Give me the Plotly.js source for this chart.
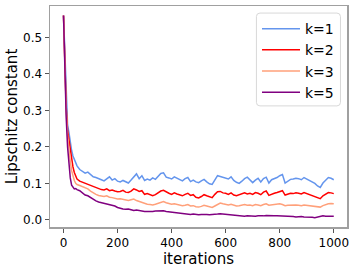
<!DOCTYPE html>
<html><head><meta charset="utf-8">
<script src="https://cdn.plot.ly/plotly-3.0.1.min.js"></script>
<style>html,body{margin:0;padding:0;background:#fff}#chart{width:357px;height:270px}</style>
</head><body><div id="chart"></div>
<script>
const iters = [0,5,10,15,20,25,30,35,40,45,50,60,70,80,90,100,110,120,130,140,150,160,170,180,190,200,210,220,230,240,250,260,270,280,290,300,310,320,330,340,350,360,370,380,390,400,410,420,430,440,450,460,470,480,490,500,510,520,530,540,550,560,570,580,590,600,610,620,630,640,650,660,670,680,690,700,710,720,730,740,750,760,770,780,790,800,810,820,830,840,850,860,870,880,890,900,910,920,930,940,950,960,970,980,990,1000];
const k1 = [0.56,0.44,0.33,0.26,0.24,0.21,0.19,0.175,0.165,0.155,0.148,0.138,0.132,0.128,0.131,0.124,0.118,0.116,0.112,0.11,0.107,0.112,0.118,0.109,0.113,0.106,0.104,0.108,0.105,0.101,0.109,0.118,0.126,0.113,0.121,0.108,0.112,0.109,0.115,0.111,0.118,0.127,0.129,0.117,0.115,0.112,0.118,0.114,0.111,0.107,0.113,0.116,0.105,0.109,0.104,0.102,0.107,0.111,0.104,0.099,0.097,0.110,0.121,0.119,0.116,0.114,0.112,0.118,0.108,0.103,0.100,0.106,0.113,0.117,0.109,0.102,0.109,0.114,0.104,0.113,0.117,0.101,0.110,0.112,0.116,0.121,0.124,0.101,0.106,0.111,0.112,0.114,0.113,0.110,0.116,0.112,0.108,0.104,0.100,0.093,0.089,0.101,0.108,0.116,0.114,0.110];
const k2 = [0.56,0.42,0.31,0.245,0.22,0.19,0.165,0.145,0.13,0.12,0.112,0.106,0.103,0.100,0.098,0.093,0.090,0.088,0.086,0.083,0.082,0.085,0.080,0.082,0.079,0.077,0.078,0.081,0.076,0.075,0.079,0.085,0.082,0.078,0.080,0.070,0.072,0.068,0.066,0.069,0.074,0.079,0.081,0.076,0.073,0.070,0.074,0.071,0.068,0.066,0.070,0.073,0.067,0.069,0.062,0.060,0.064,0.069,0.066,0.063,0.061,0.070,0.077,0.078,0.074,0.073,0.070,0.074,0.068,0.066,0.068,0.072,0.074,0.071,0.073,0.070,0.075,0.073,0.069,0.076,0.079,0.067,0.071,0.073,0.075,0.078,0.080,0.068,0.071,0.073,0.072,0.074,0.073,0.071,0.075,0.072,0.070,0.067,0.064,0.060,0.058,0.066,0.071,0.075,0.074,0.072];
const k3 = [0.56,0.41,0.30,0.23,0.19,0.16,0.135,0.12,0.108,0.10,0.097,0.094,0.091,0.088,0.085,0.079,0.074,0.070,0.067,0.065,0.064,0.066,0.062,0.061,0.059,0.057,0.058,0.056,0.054,0.053,0.055,0.057,0.053,0.050,0.048,0.046,0.043,0.042,0.041,0.043,0.046,0.049,0.050,0.047,0.045,0.043,0.044,0.042,0.041,0.039,0.040,0.042,0.038,0.039,0.036,0.035,0.037,0.040,0.038,0.036,0.034,0.038,0.042,0.046,0.044,0.042,0.041,0.043,0.040,0.038,0.039,0.041,0.042,0.040,0.041,0.039,0.042,0.041,0.039,0.042,0.044,0.040,0.041,0.042,0.043,0.044,0.042,0.039,0.040,0.041,0.040,0.041,0.040,0.039,0.041,0.040,0.038,0.036,0.035,0.034,0.035,0.039,0.042,0.044,0.045,0.044];
const k5 = [0.56,0.40,0.28,0.20,0.15,0.115,0.095,0.088,0.085,0.086,0.083,0.080,0.075,0.068,0.066,0.061,0.056,0.052,0.049,0.047,0.046,0.044,0.043,0.040,0.038,0.034,0.031,0.030,0.029,0.030,0.028,0.026,0.027,0.025,0.024,0.023,0.023,0.022,0.023,0.024,0.025,0.026,0.025,0.023,0.022,0.021,0.021,0.020,0.019,0.018,0.018,0.017,0.015,0.016,0.014,0.014,0.015,0.016,0.015,0.014,0.014,0.016,0.016,0.017,0.016,0.015,0.016,0.015,0.013,0.011,0.010,0.011,0.010,0.011,0.010,0.011,0.010,0.011,0.010,0.011,0.012,0.011,0.010,0.011,0.011,0.011,0.010,0.009,0.010,0.010,0.009,0.008,0.009,0.009,0.008,0.008,0.009,0.007,0.006,0.008,0.010,0.011,0.010,0.009,0.010,0.010];
const names = ['k=1','k=2','k=3','k=5'];
const colors = ['#6495ED','#FF0000','#FFA07A','#800080'];
const series = [k1,k2,k3,k5];
const xticks = [0,200,400,600,800,1000];
const yticks = [0.0,0.1,0.2,0.3,0.4,0.5];

const traces = series.map((s,i)=>({x:iters,y:s,type:'scatter',mode:'lines',name:names[i],line:{color:colors[i],width:1.5}}));
const ff = 'DejaVu Sans, sans-serif';
// legend frame (paper coords), rounded corners
const L=0.695, R=0.978, B=0.548, T=0.968, rx=0.012, ry=0.016;
const framePath = `M ${L+rx},${B} L ${R-rx},${B} Q ${R},${B} ${R},${B+ry} L ${R},${T-ry} Q ${R},${T} ${R-rx},${T} L ${L+rx},${T} Q ${L},${T} ${L},${T-ry} L ${L},${B+ry} Q ${L},${B} ${L+rx},${B} Z`;
const layout = {
  width:357,height:270,margin:{l:50,r:10,t:6,b:43},
  paper_bgcolor:'#fff',plot_bgcolor:'#fff',
  font:{size:12,family:ff,color:'#000'},
  xaxis:{range:[-50,1049],tickvals:xticks,ticktext:xticks.map(String),showgrid:false,zeroline:false,
    showline:true,mirror:true,linecolor:'#a0a0a0',linewidth:1.5,ticks:'outside',ticklen:4,tickcolor:'#555',
    tickfont:{size:12,family:ff},title:{text:'iterations',font:{size:15,family:ff},standoff:0}},
  yaxis:{range:[-0.0195,0.586],tickvals:yticks,ticktext:yticks.map(v=>v.toFixed(1)),showgrid:false,zeroline:false,
    showline:true,mirror:true,linecolor:'#a0a0a0',linewidth:1.5,ticks:'outside',ticklen:4,tickcolor:'#555',
    tickfont:{size:12,family:ff},title:{text:'Lipschitz constant',font:{size:15,family:ff},standoff:2}},
  legend:{x:0.697,xanchor:'left',y:0.968,yanchor:'top',bgcolor:'rgba(0,0,0,0)',borderwidth:0,
    font:{size:14,family:ff},tracegroupgap:0,itemwidth:38},
  shapes:[{type:'path',xref:'paper',yref:'paper',path:framePath,line:{color:'#d8d8d8',width:1},fillcolor:'rgba(255,255,255,0.8)',layer:'above'}],
  showlegend:true
};
Plotly.newPlot('chart',traces,layout,{displayModeBar:false,staticPlot:true});
</script></body></html>
